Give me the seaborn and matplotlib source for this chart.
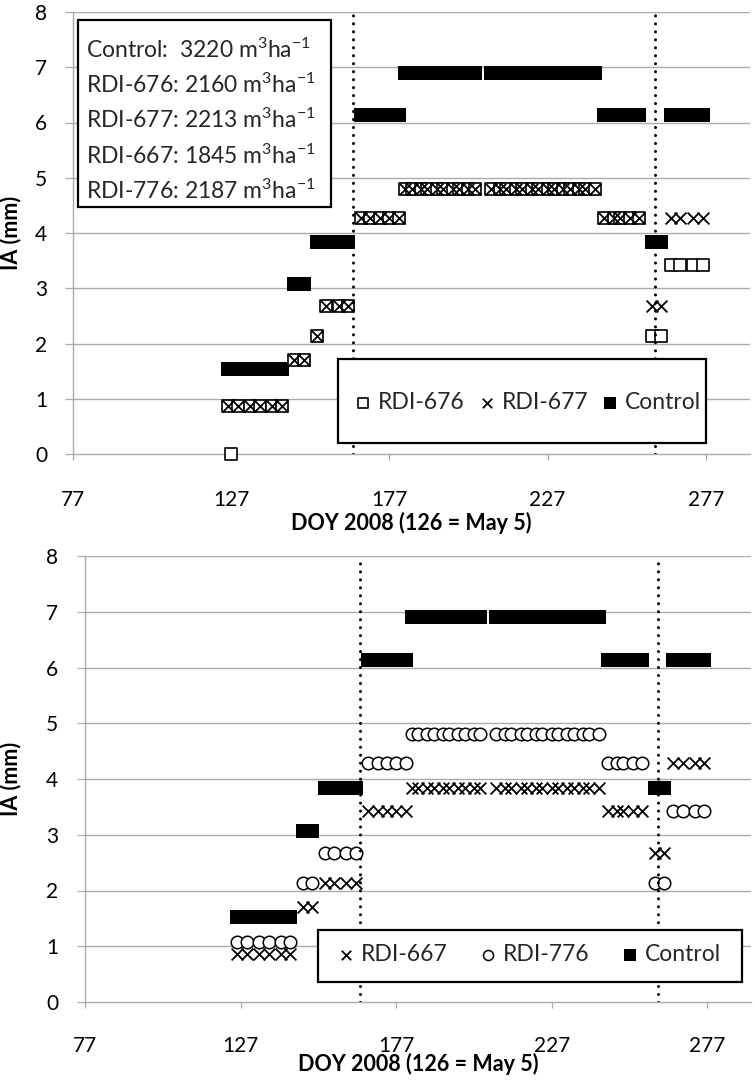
import matplotlib
matplotlib.use("Agg")
import matplotlib.pyplot as plt
from matplotlib.patches import Rectangle
import pandas as pd
import seaborn as sns

# ---- data: daily irrigation amount (mm) by day of year 2008 ----
doy = [126, 129, 133, 136, 140, 143,
       147, 150,
       154, 157, 161, 164,
       168, 171, 174, 177, 180,
       182, 184, 187, 189, 192, 194, 197, 199, 202, 204,
       209, 212, 214, 217, 219, 222, 224, 227, 229, 232, 234, 237, 239, 242,
       245, 248, 250, 253, 256,
       260, 263,
       266, 269, 273, 276]

control = [1.53, 1.53, 1.53, 1.53, 1.53, 1.53,
           3.07, 3.07,
           3.84, 3.84, 3.84, 3.84,
           6.14, 6.14, 6.14, 6.14, 6.14,
           6.9, 6.9, 6.9, 6.9, 6.9, 6.9, 6.9, 6.9, 6.9, 6.9,
           6.9, 6.9, 6.9, 6.9, 6.9, 6.9, 6.9, 6.9, 6.9, 6.9, 6.9, 6.9, 6.9, 6.9,
           6.14, 6.14, 6.14, 6.14, 6.14,
           3.84, 3.84,
           6.14, 6.14, 6.14, 6.14]

rdi_676 = [0.86, 0.86, 0.86, 0.86, 0.86, 0.86,
           1.71, 1.71,
           2.14, 2.68, 2.68, 2.68,
           4.28, 4.28, 4.28, 4.28, 4.28,
           4.8, 4.8, 4.8, 4.8, 4.8, 4.8, 4.8, 4.8, 4.8, 4.8,
           4.8, 4.8, 4.8, 4.8, 4.8, 4.8, 4.8, 4.8, 4.8, 4.8, 4.8, 4.8, 4.8, 4.8,
           4.28, 4.28, 4.28, 4.28, 4.28,
           2.14, 2.14,
           3.42, 3.42, 3.42, 3.42]
# one extra RDI-676 reading with no irrigation
doy_676_zero = [127]
rdi_676_zero = [0.0]

rdi_677 = [0.86, 0.86, 0.86, 0.86, 0.86, 0.86,
           1.71, 1.71,
           2.14, 2.68, 2.68, 2.68,
           4.28, 4.28, 4.28, 4.28, 4.28,
           4.8, 4.8, 4.8, 4.8, 4.8, 4.8, 4.8, 4.8, 4.8, 4.8,
           4.8, 4.8, 4.8, 4.8, 4.8, 4.8, 4.8, 4.8, 4.8, 4.8, 4.8, 4.8, 4.8, 4.8,
           4.28, 4.28, 4.28, 4.28, 4.28,
           2.68, 2.68,
           4.28, 4.28, 4.28, 4.28]

rdi_667 = [0.86, 0.86, 0.86, 0.86, 0.86, 0.86,
           1.71, 1.71,
           2.14, 2.14, 2.14, 2.14,
           3.42, 3.42, 3.42, 3.42, 3.42,
           3.84, 3.84, 3.84, 3.84, 3.84, 3.84, 3.84, 3.84, 3.84, 3.84,
           3.84, 3.84, 3.84, 3.84, 3.84, 3.84, 3.84, 3.84, 3.84, 3.84, 3.84, 3.84, 3.84, 3.84,
           3.42, 3.42, 3.42, 3.42, 3.42,
           2.68, 2.68,
           4.28, 4.28, 4.28, 4.28]

rdi_776 = [1.07, 1.07, 1.07, 1.07, 1.07, 1.07,
           2.14, 2.14,
           2.68, 2.68, 2.68, 2.68,
           4.28, 4.28, 4.28, 4.28, 4.28,
           4.8, 4.8, 4.8, 4.8, 4.8, 4.8, 4.8, 4.8, 4.8, 4.8,
           4.8, 4.8, 4.8, 4.8, 4.8, 4.8, 4.8, 4.8, 4.8, 4.8, 4.8, 4.8, 4.8, 4.8,
           4.28, 4.28, 4.28, 4.28, 4.28,
           2.14, 2.14,
           3.42, 3.42, 3.42, 3.42]

# stage boundaries (DOY)
stage_lines = [165.5, 261]

x_ticks = [77, 127, 177, 227, 277]
y_ticks = [0, 1, 2, 3, 4, 5, 6, 7, 8]

volume_lines = ["Control:  3220 m$^{3}$ha$^{-1}$",
                "RDI-676: 2160 m$^{3}$ha$^{-1}$",
                "RDI-677: 2213 m$^{3}$ha$^{-1}$",
                "RDI-667: 1845 m$^{3}$ha$^{-1}$",
                "RDI-776: 2187 m$^{3}$ha$^{-1}$"]

x_label = "DOY 2008 (126 = May 5)"
y_label = "IA (mm)"

# ---- styling ----
sns.set_theme(style="white")
plt.rcParams["font.family"] = ["Lato", "DejaVu Sans"]
plt.rcParams["mathtext.fontset"] = "custom"
plt.rcParams["mathtext.rm"] = "Lato"
plt.rcParams["mathtext.it"] = "Lato:italic"
plt.rcParams["mathtext.bf"] = "Lato:bold"

GRID = "#ababab"
TICK_FS = 15
TEXT_FS = 16.5
LABEL_FS = 15.5

df = pd.DataFrame({"doy": doy, "Control": control, "RDI-676": rdi_676,
                   "RDI-677": rdi_677, "RDI-667": rdi_667, "RDI-776": rdi_776})
df_zero = pd.DataFrame({"doy": doy_676_zero, "RDI-676": rdi_676_zero})

fig = plt.figure(figsize=(7.55, 10.81), dpi=100)
W, H = 755, 1081
ax1 = fig.add_axes([73 / W, 1 - 454 / H, (750 - 73) / W, 442 / H])
ax2 = fig.add_axes([85 / W, 1 - 1002 / H, (751 - 85) / W, 446 / H])


def style_axes(ax, xpad, ypad):
    ax.set_xlim(77, 291)
    ax.set_ylim(0, 8)
    ax.set_xticks(x_ticks)
    ax.set_yticks(y_ticks)
    ax.set_xticklabels([str(t) for t in x_ticks], fontsize=TICK_FS)
    ax.set_yticklabels([str(t) for t in y_ticks], fontsize=TICK_FS)
    ax.grid(False)
    for yv in y_ticks[1:]:
        ax.axhline(yv, color=GRID, lw=1.0, zorder=0.5)
    for side in ("top", "right"):
        ax.spines[side].set_visible(False)
    for side in ("left", "bottom"):
        ax.spines[side].set_color(GRID)
        ax.spines[side].set_linewidth(1.0)
        ax.spines[side].set_zorder(0.6)
    ax.tick_params(axis="x", direction="out", length=4, width=0.9,
                   color=GRID, pad=xpad, labelcolor="black", bottom=True)
    ax.tick_params(axis="y", direction="out", length=6, width=0.9,
                   color=GRID, pad=ypad, labelcolor="black", left=True)
    for xv in stage_lines:
        ax.axvline(xv, color="black", lw=2.2, linestyle=(0, (0.01, 2.6)),
                   dash_capstyle="round", zorder=4)


def control_marks(ax):
    sns.scatterplot(data=df, x="doy", y="Control", ax=ax, marker="s", s=110,
                    color="black", edgecolor="black", linewidth=0,
                    label="Control", zorder=3, legend=False, clip_on=False)


# ---- top panel ----
control_marks(ax1)
sns.scatterplot(data=df, x="doy", y="RDI-676", ax=ax1, marker="s", s=86,
                color="white", edgecolor="black", linewidth=1.2,
                label="RDI-676", zorder=3, legend=False, clip_on=False)
sns.scatterplot(data=df_zero, x="doy", y="RDI-676", ax=ax1, marker="s", s=86,
                color="white", edgecolor="black", linewidth=1.2,
                zorder=3, legend=False, clip_on=False)
sns.scatterplot(data=df, x="doy", y="RDI-677", ax=ax1, marker="x", s=72,
                color="black", linewidth=1.3,
                label="RDI-677", zorder=3.2, legend=False, clip_on=False)
style_axes(ax1, xpad=22, ypad=12.5)

# ---- bottom panel ----
control_marks(ax2)
sns.scatterplot(data=df, x="doy", y="RDI-667", ax=ax2, marker="x", s=72,
                color="black", linewidth=1.3,
                label="RDI-667", zorder=3, legend=False, clip_on=False)
sns.scatterplot(data=df, x="doy", y="RDI-776", ax=ax2, marker="o", s=81,
                color="white", edgecolor="black", linewidth=1.1,
                label="RDI-776", zorder=3.2, legend=False, clip_on=False)
style_axes(ax2, xpad=20.5, ypad=13.3)

for ax, xl_y, yl_x in ((ax1, -0.131, -0.0768), (ax2, -0.114, -0.0961)):
    ax.set_xlabel(x_label, fontsize=LABEL_FS, fontweight="bold", color="black")
    ax.set_ylabel(y_label, fontsize=LABEL_FS, fontweight="bold", color="black")
    ax.xaxis.set_label_coords(0.5, xl_y)
    ax.yaxis.set_label_coords(yl_x, 0.5)

# ---- seasonal volume box (top panel) ----
ax1.add_patch(Rectangle((0.0074, 0.5588), 0.3737, 0.423, transform=ax1.transAxes,
                        facecolor="white", edgecolor="black", linewidth=1.6,
                        zorder=6, clip_on=False))
for i, line in enumerate(volume_lines):
    ax1.text(0.0192, 0.914 - i * 0.0795, line, transform=ax1.transAxes,
             fontsize=TEXT_FS, ha="left", va="center", zorder=7)


# ---- legends ----
def boxed_legend(ax, order, rect, center, colspace):
    handles, labels = ax.get_legend_handles_labels()
    lookup = dict(zip(labels, handles))
    ax.add_patch(Rectangle(rect[:2], rect[2], rect[3], transform=ax.transAxes,
                           facecolor="white", edgecolor="black", linewidth=1.6,
                           zorder=6, clip_on=False))
    leg = ax.legend([lookup[k] for k in order], order, loc="center",
                    bbox_to_anchor=center, bbox_transform=ax.transAxes,
                    ncol=3, frameon=False, fontsize=TEXT_FS, markerscale=0.8,
                    handlelength=0.6, handletextpad=0.35, columnspacing=colspace,
                    borderpad=0.0)
    leg.set_zorder(7)


boxed_legend(ax1, ["RDI-676", "RDI-677", "Control"],
             (0.391, 0.025, 0.5436, 0.19), (0.673, 0.1176), 0.65)
boxed_legend(ax2, ["RDI-667", "RDI-776", "Control"],
             (0.35, 0.0448, 0.6366, 0.1166), (0.668, 0.1054), 1.47)

fig.savefig("out.png", dpi=100)
